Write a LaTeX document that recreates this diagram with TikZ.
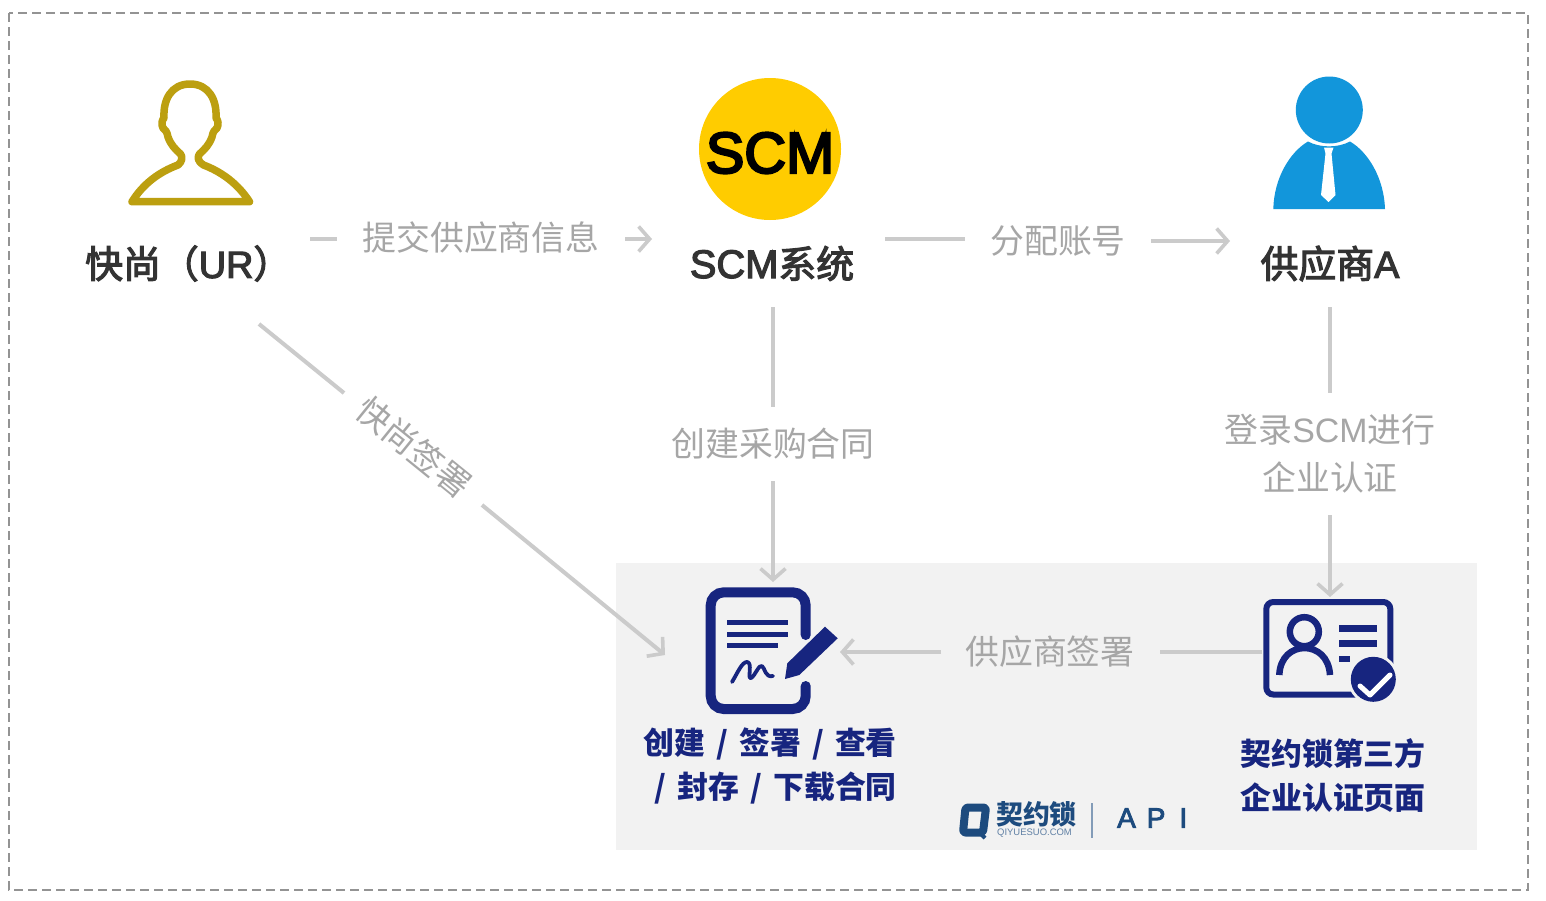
\documentclass[tikz,border=0pt]{standalone}
\usepackage{fontspec}
\usetikzlibrary{arrows.meta}
\setmainfont{Noto Sans CJK SC}
\newfontfamily\lat{Liberation Sans}
\newfontfamily\cjkmed[FakeBold=3]{Noto Sans CJK SC}
\newfontfamily\latmed[FakeBold=3]{Liberation Sans}
\newfontfamily\latheavy[FakeBold=4]{Liberation Sans}
\definecolor{linegray}{HTML}{CBCBCB}
\definecolor{labelgray}{HTML}{A6A6A6}
\definecolor{darktext}{HTML}{333333}
\definecolor{navy}{HTML}{17257F}
\definecolor{panel}{HTML}{F2F2F2}
\definecolor{gold}{HTML}{BC9F10}
\definecolor{sky}{HTML}{1296DB}
\definecolor{logoblue}{HTML}{1D4B7E}
\definecolor{scmyellow}{HTML}{FFCC00}
\tikzset{
  x=1bp,y=-1bp,
  conn/.style={draw=linegray,line width=4bp},
  arr/.style={conn,-{Straight Barb[length=11bp,width=25bp,line width=3.6bp]}},
  graylabel/.style={text=labelgray,inner sep=0pt,font=\fontsize{34}{48}\selectfont,align=center},
  darklabel/.style={text=darktext,inner sep=0pt,font=\fontsize{38}{44}\selectfont\cjkmed},
  navylabel/.style={text=navy,inner sep=0pt,font=\fontsize{31}{44}\selectfont\bfseries},
}
\newcommand{\sepslash}{\hspace{4bp} / \hspace{4bp}}
\begin{document}
\begin{tikzpicture}
\useasboundingbox (0,0) rectangle (1546,900);
\fill[white] (0,0) rectangle (1546,900);
\draw[draw=gray!85,line width=2bp,dash pattern=on 9bp off 5bp] (9,13) rectangle (1528,890);
\fill[panel] (616,563) rectangle (1477,850);

% gold user
\draw[gold,line width=7.5bp,line join=round]
  (132,201.7) -- (249.5,201.7)
  .. controls (238,184) and (222,172) .. (203.5,165)
  .. controls (198,162) and (197,157) .. (199.5,154)
  .. controls (205,149) and (209,145) .. (212,137)
  .. controls (213,131) and (215,130) .. (217,128)
  .. controls (219,124) and (218,120) .. (216,118)
  .. controls (217,100) and (209,84) .. (190,84)
  .. controls (171,84) and (163,100) .. (164,118)
  .. controls (162,120) and (161,124) .. (163,128)
  .. controls (165,130) and (167,131) .. (168,137)
  .. controls (171,145) and (175,149) .. (180.5,154)
  .. controls (183,157) and (182,162) .. (178,165)
  .. controls (159,172) and (143,184) .. cycle;

% SCM disc
\node[circle,fill=scmyellow,minimum size=142bp,inner sep=0pt] (scm) at (770,149) {};
\node[inner sep=0pt,text=black,font=\fontsize{58}{58}\selectfont\latheavy] (scmtext) at (770,153) {SCM};

% blue user
\fill[sky] (1329.3,110) circle[radius=33.5];
\fill[sky] (1273.3,209) .. controls (1274,178) and (1290,152) .. (1308,141.5)
  .. controls (1320,148) and (1338,148) .. (1350,141.5)
  .. controls (1368,152) and (1384,178) .. (1385,209) -- cycle;
\fill[white] (1324,147.5) -- (1333.5,147.5) -- (1331.5,153.5) -- (1335.5,195) -- (1328.5,202) -- (1321,195) -- (1325.5,153.5) -- cycle;

% document icon
\draw[navy,line width=10bp,line cap=round,rounded corners=13bp]
  (805.7,635) -- (805.7,592.3) -- (710.7,592.3) -- (710.7,709) -- (805.7,709) -- (805.7,686);
\foreach \yy/\xe in {622.7/788.3,634.3/788.3,645.7/777.7}
  \draw[navy,line width=5bp] (727.3,\yy) -- (\xe,\yy);
\draw[navy,line width=3.8bp,line cap=round,line join=round]
  (732,682) .. controls (738,672) and (742,662) .. (747,662)
  .. controls (753,662) and (747,680) .. (751,678)
  .. controls (755,676) and (759,664) .. (762,666)
  .. controls (765,668) and (765,678) .. (773,676);
\fill[navy] (825,626.7) -- (837.7,638.3) -- (799.3,675) -- (785,679) -- (787.3,663.3) -- cycle;

% id card icon
\draw[navy,line width=6bp,rounded corners=7bp] (1266.3,602) rectangle (1390.3,694.5);
\fill[panel] (1373.3,679.3) circle[radius=25.5];
\fill[navy] (1373.3,679.3) circle[radius=22.5];
\draw[white,line width=5bp,line cap=round,line join=round] (1360,686) -- (1370,695) -- (1390,675);
\draw[navy,line width=6.5bp] (1304.3,631.7) circle[radius=14.5];
\draw[navy,line width=6.5bp] (1279.3,675) .. controls (1280,657) and (1292,648) .. (1304.5,648)
  .. controls (1317,648) and (1329,657) .. (1330,675);
\draw[navy,line width=6.5bp] (1339.3,628.3) -- (1376.7,628.3);
\draw[navy,line width=6.5bp] (1339.3,643.3) -- (1376.7,643.3);
\draw[navy,line width=6.5bp] (1339.3,659) -- (1350,659);

% logo
\draw[logoblue,line width=8bp,rounded corners=2.5bp,line join=round] (965.5,807.5) -- (986,807.5) -- (983,832.5) -- (963,832.5) -- cycle;
\draw[logoblue,line width=4bp] (979,832) -- (985,838);
\node[inner sep=0pt,text=logoblue,font=\fontsize{27}{27}\selectfont\bfseries] (logocn) at (1036.5,814) {契约锁};
\node[inner sep=0pt,text=logoblue!70,font=\fontsize{9.5}{10}\selectfont\lat] (logoen) at (1034.5,833.5) {QIYUESUO.COM};
\draw[draw=logoblue!55,line width=1.6bp] (1091.7,803) -- (1091.7,838);
\node[inner sep=0pt,anchor=west,text=logoblue,font=\fontsize{28}{28}\selectfont\latmed] (api) at (1117,818) {A\hspace{11bp}P\hspace{14bp}I};

% labels
\node[darklabel,anchor=west] (ur) at (85,263.5) {快尚（{\latmed UR}）};
\node[darklabel] (scmsys) at (772,263.5) {{\latmed\fontsize{40}{44}\selectfont SCM}系统};
\node[darklabel] (supa) at (1330,263.5) {供应商{\latmed A}};
\node[graylabel] (l1) at (481,238) {提交供应商信息};
\node[graylabel] (l2) at (1058,241) {分配账号};
\node[graylabel] (l3) at (773,444) {创建采购合同};
\node[graylabel] (l4) at (1330,454) {登录{\lat SCM}进行\\企业认证};
\node[graylabel] (l5) at (1050,652) {供应商签署};
\node[graylabel,rotate=-39] (l6) at (414,447) {快尚签署};
\node[navylabel,align=right,anchor=east] (t1) at (897,766) {创建\sepslash 签署\sepslash 查看\\/\hspace{4bp} 封存\sepslash 下载合同};
\node[navylabel,align=center] (t2) at (1333,775.5) {契约锁第三方\\企业认证页面};

% connector ends
\coordinate (a1) at (310,239); \coordinate (a2) at (337,239);
\coordinate (a3) at (625,239); \coordinate (a4) at (652,239);
\coordinate (b1) at (885,239); \coordinate (b2) at (965,239);
\coordinate (b3) at (1151,241); \coordinate (b4) at (1230,241);
\coordinate (c1) at (773,307); \coordinate (c2) at (773,407);
\coordinate (c3) at (773,481); \coordinate (c4) at (773,582);
\coordinate (d1) at (1330,307); \coordinate (d2) at (1330,393);
\coordinate (d3) at (1330,515); \coordinate (d4) at (1330,597);
\coordinate (e1) at (259,324); \coordinate (e2) at (344,393);
\coordinate (e3) at (482,505); \coordinate (e4) at (665,655);
\coordinate (f1) at (1262,652); \coordinate (f2) at (1160,652);
\coordinate (f3) at (941,652); \coordinate (f4) at (840,652);
\draw[conn] (a1) -- (a2);
\draw[arr] (a3) -- (a4);
\draw[conn] (b1) -- (b2);
\draw[arr] (b3) -- (b4);
\draw[conn] (c1) -- (c2);
\draw[arr] (c3) -- (c4);
\draw[conn] (d1) -- (d2);
\draw[arr] (d3) -- (d4);
\draw[conn] (e1) -- (e2);
\draw[arr] (e3) -- (e4);
\draw[conn] (f1) -- (f2);
\draw[arr] (f3) -- (f4);
\end{tikzpicture}
\end{document}
